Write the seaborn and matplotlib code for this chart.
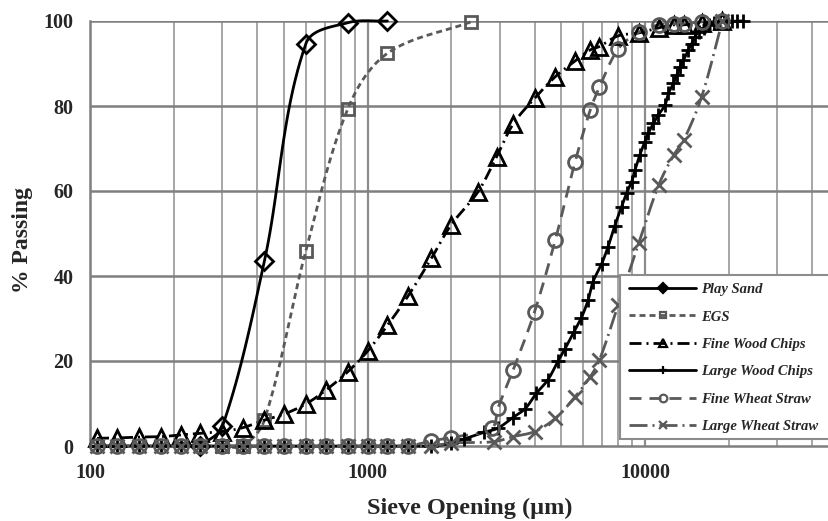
import numpy as np
import matplotlib
matplotlib.use("Agg")
import matplotlib.pyplot as plt
from matplotlib.lines import Line2D
from matplotlib.patches import Rectangle
from matplotlib.ticker import FixedLocator, FixedFormatter, NullFormatter
import seaborn as sns

# ---- sieve analysis data (opening in µm, % passing) ----
low_sieves = [106, 125, 150, 180, 212, 250, 300, 355, 425, 500, 600, 710,
              850, 1000, 1180, 1400]

play_sand_x = [250, 300, 425, 600, 850, 1180]
play_sand_y = [0, 4.6, 43.5, 94.7, 99.6, 100]

egs_x = [300, 355, 425, 600, 850, 1180, 2360]
egs_y = [0, 0, 6.1, 46.0, 79.4, 92.4, 99.8]

fine_wood_x = [106, 125, 150, 180, 212, 250, 300, 355, 425, 500, 600, 710,
               850, 1000, 1180, 1400, 1700, 2000, 2500, 2920, 3350, 4000,
               4750, 5600, 6350, 6850, 8000, 9500, 11200, 12700, 13800,
               16000, 19000]
fine_wood_y = [1.8, 1.9, 2.1, 2.2, 2.6, 3.0, 3.4, 4.3, 6.1, 7.5, 9.9, 13.2,
               17.5, 22.3, 28.4, 35.3, 44.2, 52.0, 59.8, 68.1, 75.8, 81.8,
               86.9, 90.6, 93.2, 94.0, 96.5, 97.2, 98.4, 99.1, 99.1,
               99.6, 100]

large_wood_x = low_sieves + [1700, 2000, 2220, 2620, 2950, 3340, 3700, 4060,
                             4470, 4860, 5140, 5550, 5900, 6240, 6500, 6970,
                             7360, 7780, 8230, 8580, 8950, 9200, 9580, 9990,
                             10280, 10720, 11170, 11800, 12150, 12660, 13010,
                             13380, 13760, 14340, 14740, 15150, 15590, 16250,
                             16940, 17660, 18500, 19500, 20500, 21500, 22500]
large_wood_y = [0] * len(low_sieves) + [0, 0.6, 1.6, 3.2, 4.2, 6.7, 8.8, 12.4,
                                        15.6, 20.0, 22.8, 26.9, 30.2, 34.4,
                                        38.7, 42.8, 46.9, 51.8, 56.3, 59.5,
                                        62.2, 64.9, 68.5, 71.6, 73.6, 75.9,
                                        77.9, 80.2, 83.0, 85.3, 87.3, 89.2,
                                        90.8, 93.2, 94.7, 96.3, 97.5, 98.3,
                                        99.1, 99.5, 99.7, 99.8, 99.9, 100,
                                        100]

fine_straw_x = low_sieves + [1700, 2000, 2800, 2950, 3350, 4000, 4750, 5600,
                             6350, 6850, 8000, 9500, 11200, 12700, 13800,
                             16000, 19000]
fine_straw_y = [0] * len(low_sieves) + [1.2, 2.0, 4.2, 8.9, 17.9, 31.6, 48.5,
                                        66.9, 79.1, 84.4, 93.4, 97.4, 99.1,
                                        99.3, 99.4, 99.8, 100]

large_straw_x = low_sieves + [1700, 2000, 2850, 3350, 4000, 4750, 5600, 6350,
                              6850, 8000, 9500, 11200, 12700, 13800, 16000,
                              19000]
large_straw_y = [0] * len(low_sieves) + [0, 0.7, 1.0, 2.2, 3.4, 6.5, 11.6,
                                         16.3, 20.2, 33.2, 47.8, 61.4, 68.5,
                                         72.0, 82.2, 100]

x_ticks = [100, 1000, 10000]
x_tick_labels = ["100", "1000", "10000"]
y_ticks = [0, 20, 40, 60, 80, 100]

BLACK = "#000000"
GREY = "#595959"
PX = 0.72  # points per pixel at 100 dpi
LW = 2.0   # line and marker-edge width in points

series = [
    dict(label="Play Sand", x=play_sand_x, y=play_sand_y, color=BLACK,
         dashes=None, marker="D", ms=9.5, filled=False),
    dict(label="EGS", x=egs_x, y=egs_y, color=GREY,
         dashes=(6 * PX, 4 * PX), marker="s", ms=9, filled=False),
    dict(label="Fine Wood Chips", x=fine_wood_x, y=fine_wood_y, color=BLACK,
         dashes=(12 * PX, 5 * PX, 2 * PX, 5 * PX), marker="^", ms=11,
         filled=False),
    dict(label="Large Wood Chips", x=large_wood_x, y=large_wood_y,
         color=BLACK, dashes=None, marker="+", ms=10, filled=True),
    dict(label="Fine Wheat Straw", x=fine_straw_x, y=fine_straw_y,
         color=GREY, dashes=(12 * PX, 8 * PX), marker="o", ms=10,
         filled=False),
    dict(label="Large Wheat Straw", x=large_straw_x, y=large_straw_y,
         color=GREY, dashes=(18 * PX, 5 * PX, 2 * PX, 5 * PX), marker="x",
         ms=10, filled=True),
]

DEC_PX = 276.7   # pixels per decade on the x axis
UNIT_PX = 4.25   # pixels per percent on the y axis


def smooth_curve(xs, ys, n=24, k=1.0 / 3.0):
    """Bezier smoothing with chord-length scaled tangents in screen-like space."""
    X = np.log10(np.asarray(xs, float)) * DEC_PX
    Y = np.asarray(ys, float) * UNIT_PX
    P = np.column_stack([X, Y])
    m = len(P)

    def tangent(i):
        a = P[i - 1] if i > 0 else P[i]
        b = P[i + 1] if i + 1 < m else P[i]
        d = b - a
        nrm = np.hypot(*d)
        return d / nrm if nrm > 0 else d

    out = [P[0]]
    t = np.linspace(0, 1, n)[1:, None]
    for i in range(m - 1):
        p1, p2 = P[i], P[i + 1]
        seg = np.hypot(*(p2 - p1))
        c1 = p1 + tangent(i) * seg * k
        c2 = p2 - tangent(i + 1) * seg * k
        pts = ((1 - t) ** 3) * p1 + 3 * ((1 - t) ** 2) * t * c1 \
            + 3 * (1 - t) * t ** 2 * c2 + t ** 3 * p2
        out.extend(pts)
    out = np.array(out)
    return 10 ** (out[:, 0] / DEC_PX), out[:, 1] / UNIT_PX


sns.set_theme(style="white")
plt.rcParams["font.family"] = ["Liberation Serif", "DejaVu Serif"]
plt.rcParams["lines.scale_dashes"] = False

fig = plt.figure(figsize=(8.29, 5.21), dpi=100)
ax = fig.add_axes([90 / 829, 75 / 521, 749 / 829, 425 / 521])
ax.set_xscale("log")
ax.set_xlim(100, 50000)
ax.set_ylim(0, 100)

# grid: light minor verticals, darker majors
minor = [m * 10 ** e for e in (2, 3, 4) for m in range(2, 10) if m * 10 ** e < 50000]
for v in minor:
    ax.axvline(v, color="#a6a6a6", lw=1.4, zorder=0)
for v in (1000, 10000):
    ax.axvline(v, color="#8c8c8c", lw=1.6, zorder=0)
for h in y_ticks[1:]:
    ax.axhline(h, color="#7f7f7f", lw=1.8, zorder=0)

for s in series:
    sx, sy = smooth_curve(s["x"], s["y"])
    sns.lineplot(x=sx, y=sy, ax=ax, sort=False, estimator=None,
                 legend=False, color=s["color"], lw=LW)
    ln = ax.lines[-1]
    ln.set_clip_on(False)
    ln.set_zorder(3)
    if s["dashes"] is not None:
        ln.set_dashes(s["dashes"])
    ax.plot(s["x"], s["y"], linestyle="none", marker=s["marker"],
            ms=s["ms"], mec=s["color"],
            mfc=s["color"] if s["filled"] else "none",
            mew=LW, clip_on=False, zorder=4)

ax.xaxis.set_major_locator(FixedLocator(x_ticks))
ax.xaxis.set_major_formatter(FixedFormatter(x_tick_labels))
ax.xaxis.set_minor_formatter(NullFormatter())
ax.set_yticks(y_ticks)
ax.tick_params(axis="both", which="both", length=0, labelsize=14.5)
ax.tick_params(axis="x", pad=12)
ax.tick_params(axis="y", pad=12)
for lab in ax.get_xticklabels() + ax.get_yticklabels():
    lab.set_fontweight("bold")

for side in ("top", "right"):
    ax.spines[side].set_visible(False)
for side in ("left", "bottom"):
    ax.spines[side].set_color("#7f7f7f")
    ax.spines[side].set_linewidth(1.8)
ax.grid(False)

fig.text(470 / 829, 1 - 508 / 521, "Sieve Opening (µm)", ha="center",
         va="center", fontsize=17.5, fontweight="bold")
fig.text(23 / 829, 1 - 240 / 521, "% Passing", ha="center", va="center",
         rotation=90, fontsize=17, fontweight="bold")

handles = []
for s in series:
    h = Line2D([], [], color=s["color"], lw=LW,
               marker=s["marker"], ms=s["ms"] * 0.55, mec=s["color"],
               mfc=s["color"] if s["filled"] or s["marker"] == "D" else "none",
               mew=1.6)
    if s["dashes"] is not None:
        h.set_dashes(s["dashes"])
    handles.append(h)

leg = fig.legend(handles=handles, labels=[s["label"] for s in series],
                 loc="upper left", bbox_to_anchor=(629 / 829, 1 - 283 / 521),
                 frameon=False, handlelength=4.6, handletextpad=0.35,
                 labelspacing=0.97, borderpad=0.0, borderaxespad=0,
                 prop=dict(family="Liberation Serif", weight="bold",
                           style="italic", size=10.5))

# legend box runs past the right edge of the figure
box = Rectangle((620 / 829, 1 - 439 / 521), 220 / 829, 164 / 521,
                transform=fig.transFigure, facecolor="white",
                edgecolor="#8c8c8c", linewidth=1.5, zorder=2)
fig.patches.append(box)

fig.savefig("out.png", dpi=100)
